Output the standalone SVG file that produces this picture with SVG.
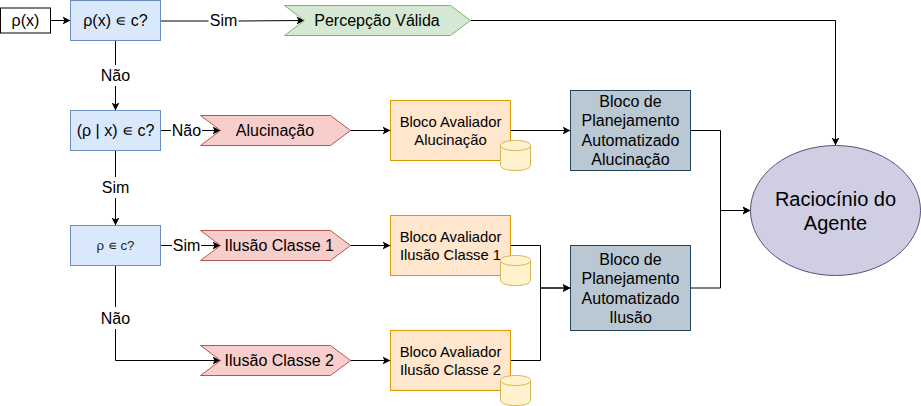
<svg xmlns="http://www.w3.org/2000/svg" width="921" height="406" viewBox="0 0 921 406">
<style>
text{font-family:"Liberation Sans",Arial,sans-serif;fill:#000;text-anchor:middle}
.t16{font-size:16px}.t15{font-size:14.800px}.t13{font-size:13.300px;fill:#222}.t20{font-size:20px}
.lbl{font-size:16px}
.b{fill:#dae8fc;stroke:#6c8ebf}
.g{fill:#d5e8d4;stroke:#82b366}
.r{fill:#f8cecc;stroke:#b85450}
.o{fill:#ffe6cc;stroke:#d79b00}
.s{fill:#bac8d3;stroke:#23445d}
.y{fill:#fff2cc;stroke:#d6b656}
.c{fill:none;stroke:#000;stroke-width:1}
.lb{fill:#fff;stroke:none}
</style>
<defs>
<marker id="a" markerUnits="userSpaceOnUse" markerWidth="9" markerHeight="10" refX="8" refY="5" orient="auto"><path d="M0 1 L8 5 L0 9 L2 5 Z" fill="#000"/></marker>
<g id="cyl"><path class="y" d="M0 5 C0 -1.700 30 -1.700 30 5 V25 C30 31.700 0 31.700 0 25 Z"/><path d="M0 5 C0 11.700 30 11.700 30 5" fill="none" stroke="#d6b656"/></g>
</defs>
<g id="connectors">
<path class="c" marker-end="url(#a)" d="M50.500 20.500 H70.500"/>
<path class="c" marker-end="url(#a)" d="M160.500 21 H238 L304.500 20.500"/>
<path class="c" marker-end="url(#a)" d="M470.500 20.500 H835.500 V145.500"/>
<path class="c" marker-end="url(#a)" d="M115.500 40.500 V110.500"/>
<path class="c" marker-end="url(#a)" d="M160.500 130.500 H220.500"/>
<path class="c" marker-end="url(#a)" d="M115.500 150.500 V225.500"/>
<path class="c" marker-end="url(#a)" d="M160.500 245.500 H220.500"/>
<path class="c" marker-end="url(#a)" d="M115.500 265.500 V360.500 H220.500"/>
<path class="c" marker-end="url(#a)" d="M350.500 130.500 H390.500"/>
<path class="c" marker-end="url(#a)" d="M350.500 245.500 H390.500"/>
<path class="c" marker-end="url(#a)" d="M350.500 360.500 H390.500"/>
<path class="c" marker-end="url(#a)" d="M510.500 130.500 H570.500"/>
<path class="c" marker-end="url(#a)" d="M510.500 245.500 H540.500 V288 H570.500"/>
<path class="c" marker-end="url(#a)" d="M510.500 360.500 H540.500 V288 H570.500"/>
<path class="c" marker-end="url(#a)" d="M690.500 130.500 H720.500 V210.500 H750.500"/>
<path class="c" marker-end="url(#a)" d="M690.500 288 H720.500 V210.500 H750.500"/>
<rect class="lb" x="208.500" y="12" width="30" height="18"/>
<rect class="lb" x="100" y="65" width="31" height="21"/>
<rect class="lb" x="171" y="122" width="31" height="18"/>
<rect class="lb" x="101" y="177" width="29" height="21"/>
<rect class="lb" x="172" y="237" width="29" height="18"/>
<rect class="lb" x="100" y="307" width="31" height="22"/>
<text class="lbl" x="223.500" y="26">Sim</text>
<text class="lbl" x="115.500" y="81">Não</text>
<text class="lbl" x="186.500" y="136">Não</text>
<text class="lbl" x="115.500" y="193">Sim</text>
<text class="lbl" x="186.500" y="251">Sim</text>
<text class="lbl" x="115.500" y="324">Não</text>
</g>
<g id="input"><rect x="0.500" y="8" width="50" height="25" fill="#fff" stroke="#000"/><text class="t16" x="25.500" y="26">ρ(x)</text></g>
<g id="q1"><rect class="b" x="70.500" y="0.500" width="90" height="40"/><text class="t16" x="115.500" y="26">ρ(x) ∊ c?</text></g>
<g id="q2"><rect class="b" x="70.500" y="110.500" width="90" height="40"/><text class="t16" x="115.500" y="136">(ρ | x) ∊ c?</text></g>
<g id="q3"><rect class="b" x="70.500" y="225.500" width="90" height="40"/><text class="t13" x="115.500" y="250">ρ ∊ c?</text></g>
<g id="percepcao"><path class="g" d="M284.500 5.500 H450.500 L470.500 20.500 L450.500 35.500 H284.500 L304.500 20.500 Z"/><text class="t16" x="377" y="26">Percepção Válida</text></g>
<g id="alucinacao"><path class="r" d="M200.500 115.500 H330.500 L350.500 130.500 L330.500 145.500 H200.500 L220.500 130.500 Z"/><text class="t16" x="275" y="136">Alucinação</text></g>
<g id="ilusao1"><path class="r" d="M200.500 230.500 H330.500 L350.500 245.500 L330.500 260.500 H200.500 L220.500 245.500 Z"/><text class="t16" x="279.300" y="251">Ilusão Classe 1</text></g>
<g id="ilusao2"><path class="r" d="M200.500 345.500 H330.500 L350.500 360.500 L330.500 375.500 H200.500 L220.500 360.500 Z"/><text class="t16" x="279.300" y="366">Ilusão Classe 2</text></g>
<g id="aval1"><rect class="o" x="390.500" y="100.500" width="120" height="60"/><text class="t15" x="450.500" y="127">Bloco Avaliador</text><text class="t15" x="450.500" y="145">Alucinação</text><use href="#cyl" x="500.500" y="140.500"/></g>
<g id="aval2"><rect class="o" x="390.500" y="215.500" width="120" height="60"/><text class="t15" x="450.500" y="242">Bloco Avaliador</text><text class="t15" x="450.500" y="260">Ilusão Classe 1</text><use href="#cyl" x="500.500" y="255.500"/></g>
<g id="aval3"><rect class="o" x="390.500" y="330.500" width="120" height="60"/><text class="t15" x="450.500" y="357">Bloco Avaliador</text><text class="t15" x="450.500" y="375">Ilusão Classe 2</text><use href="#cyl" x="500.500" y="375.500"/></g>
<g id="plan1"><rect class="s" x="570.500" y="90.500" width="120" height="80"/><text class="t16" x="630.500" y="107">Bloco de</text><text class="t16" x="630.500" y="126">Planejamento</text><text class="t16" x="630.500" y="146">Automatizado</text><text class="t16" x="630.500" y="165">Alucinação</text></g>
<g id="plan2"><rect class="s" x="570.500" y="245.500" width="120" height="85"/><text class="t16" x="630.500" y="265">Bloco de</text><text class="t16" x="630.500" y="284">Planejamento</text><text class="t16" x="630.500" y="304">Automatizado</text><text class="t16" x="630.500" y="323">Ilusão</text></g>
<g id="raciocinio"><ellipse cx="835.500" cy="210.500" rx="85" ry="65" fill="#d0cee2" stroke="#56517e"/><text class="t20" x="835.500" y="206">Raciocínio do</text><text class="t20" x="835.500" y="230">Agente</text></g>
</svg>
